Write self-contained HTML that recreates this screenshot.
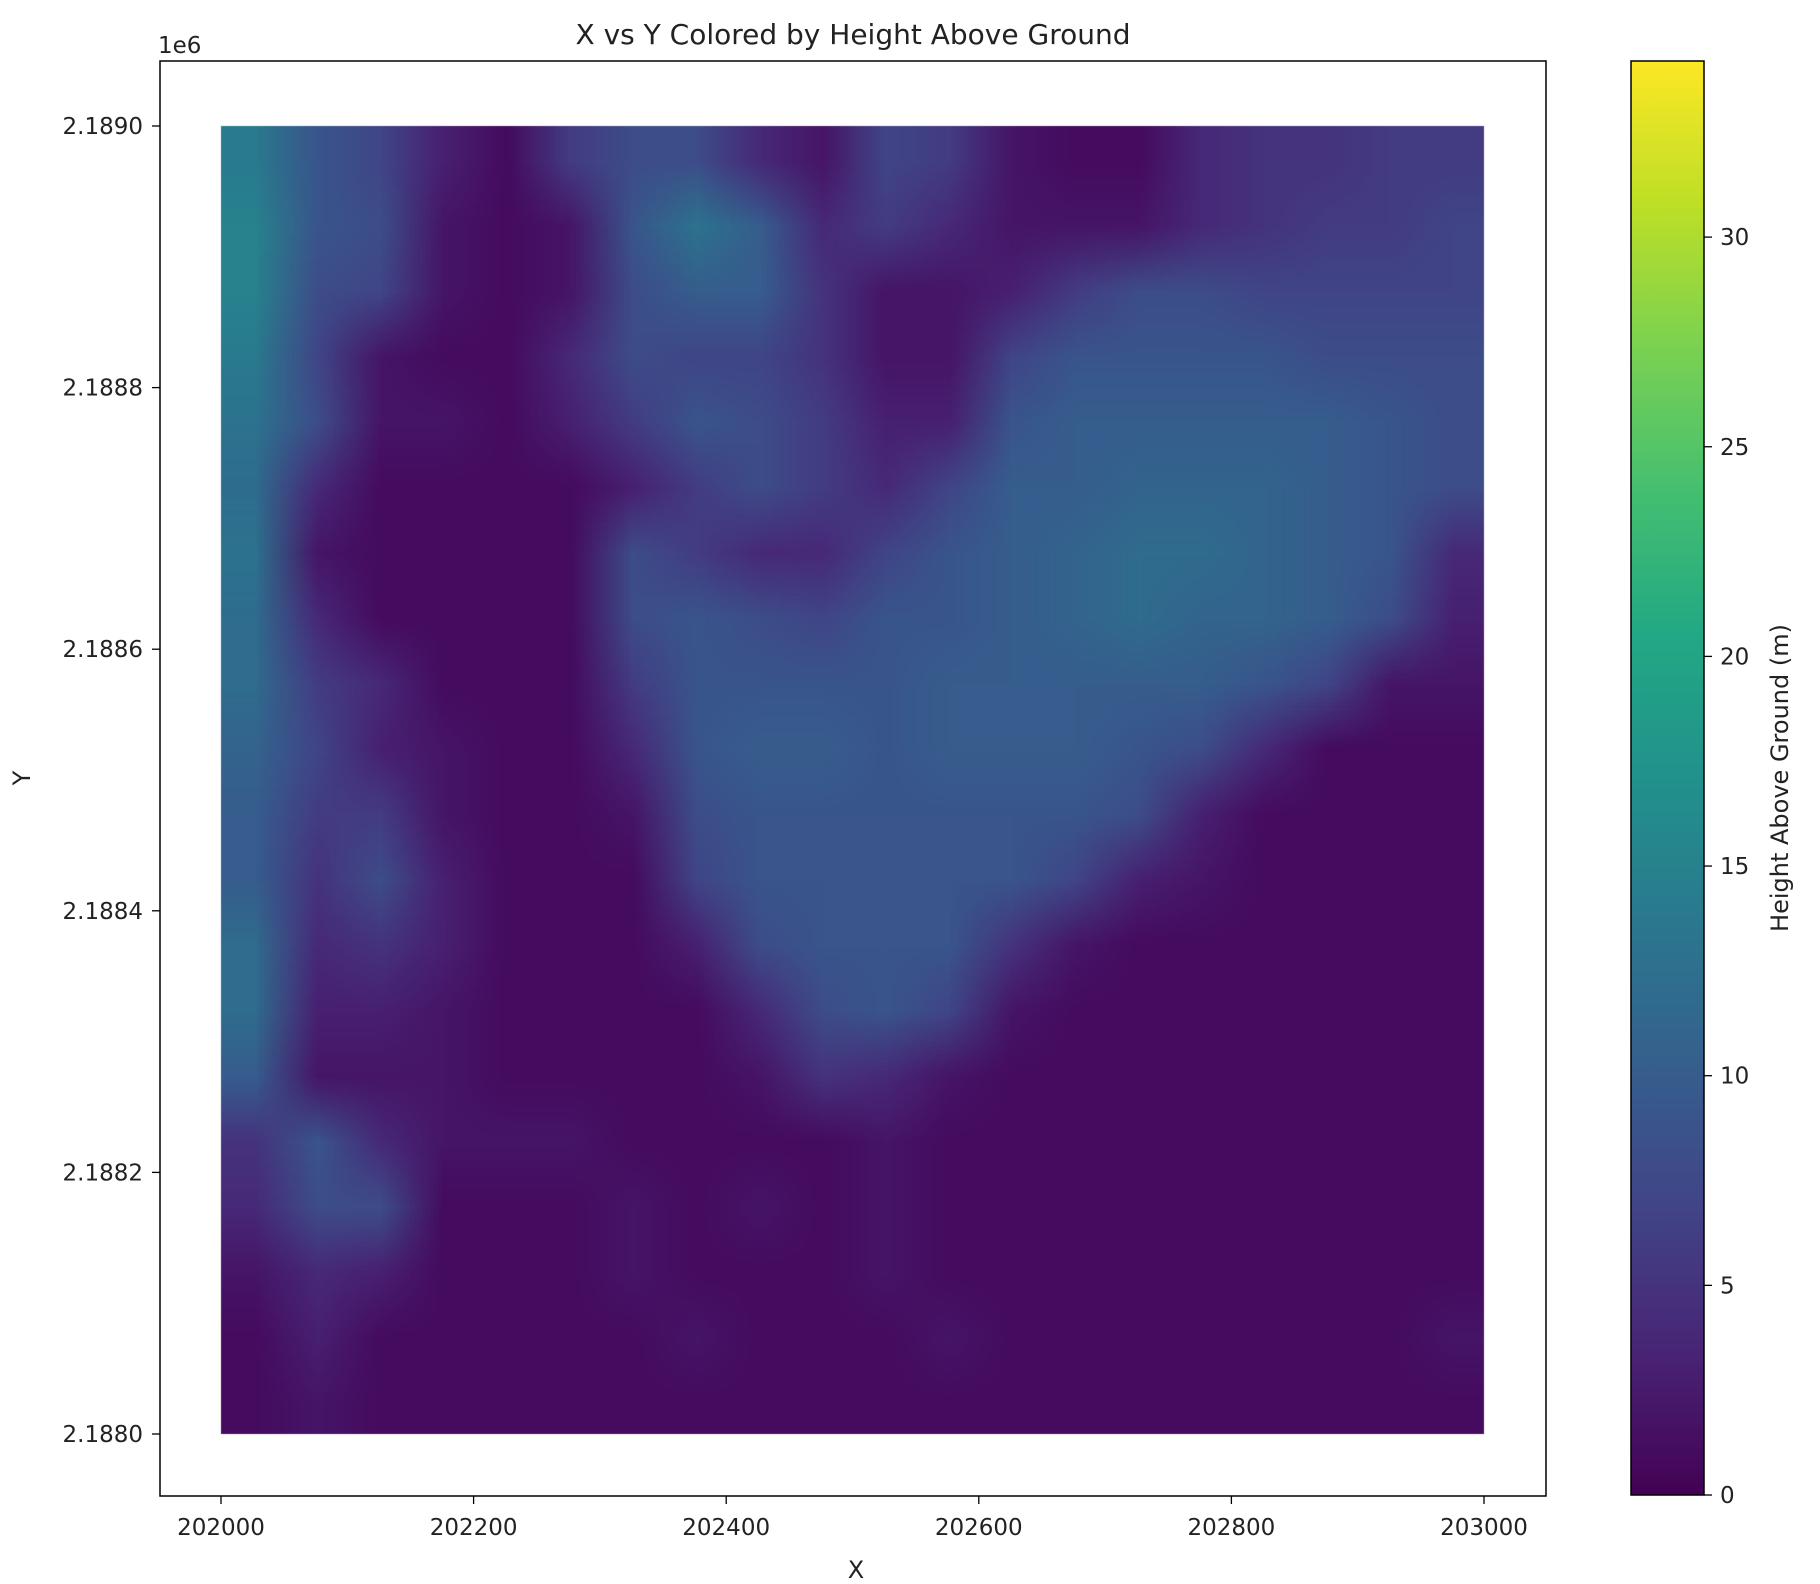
<!DOCTYPE html>
<html><head><meta charset="utf-8"><style>
body{margin:0;background:#fff;}
svg text{font-family:"DejaVu Sans","Liberation Sans",sans-serif;fill:#222;}
</style></head><body>
<div style="position:relative;width:1820px;height:1584px;">
<canvas id="heat" width="1820" height="1584" style="position:absolute;left:0;top:0"></canvas>
<svg id="svg" width="1820" height="1584" style="position:absolute;left:0;top:0">
<defs><linearGradient id="vir" x1="0" y1="1" x2="0" y2="0">
<stop offset="0" stop-color="#440154"/><stop offset="0.1" stop-color="#482475"/><stop offset="0.2" stop-color="#414487"/><stop offset="0.3" stop-color="#355f8d"/><stop offset="0.4" stop-color="#2a788e"/><stop offset="0.5" stop-color="#21918c"/><stop offset="0.6" stop-color="#22a884"/><stop offset="0.7" stop-color="#44bf70"/><stop offset="0.8" stop-color="#7ad151"/><stop offset="0.9" stop-color="#bddf26"/><stop offset="1" stop-color="#fde725"/>
</linearGradient></defs>
<text x="853" y="44" font-size="28" text-anchor="middle">X vs Y Colored by Height Above Ground</text>
<text x="158" y="53" font-size="23">1e6</text>
<rect x="160" y="61" width="1386" height="1435" fill="none" stroke="#000" stroke-width="1.5"/>
<text x="856" y="1578" font-size="24" text-anchor="middle">X</text>
<text transform="translate(30,778) rotate(-90)" font-size="24" text-anchor="middle">Y</text>
<rect x="1631" y="61" width="73" height="1434" fill="url(#vir)" stroke="#000" stroke-width="1.5"/>
<text transform="translate(1788,778) rotate(-90)" font-size="24" text-anchor="middle">Height Above Ground (m)</text>
<g id="ticks"></g>
</svg>
</div>
<script>
// Data: mean height above ground (m), 20x20 grid, rows top (north) to bottom
const xTicks=[202000,202200,202400,202600,202800,203000];
const yTicks=[2.1880,2.1882,2.1884,2.1886,2.1888,2.1890];
const cbTicks=[0,5,10,15,20,25,30];
const heightGrid=[
[14,9,7,3,1,6,8,8,4,2,7,6,2,1,1,4,5,5,6,6],
[15,9,8,2,1,2,9,13,10,4,6,4,2,2,2,4,5,6,6,7],
[15,8,7,2,1,2,8,10,10,5,2,2,3,6,8,8,7,7,7,7],
[14,7,2,1,1,4,8,7,7,5,2,2,7,9,9,9,9,8,8,8],
[13,8,2,2,1,3,6,9,8,6,3,3,9,10,10,10,10,10,9,8],
[12,4,1,1,1,1,3,6,8,6,4,7,10,10,11,11,11,10,9,8],
[13,2,1,1,1,1,8,6,4,4,7,9,10,11,12,12,11,10,9,4],
[12,4,1,1,1,1,8,9,8,7,9,9,10,11,12,11,11,10,8,3],
[12,6,4,1,1,1,6,9,9,9,9,10,10,10,10,10,9,7,2,2],
[11,7,3,2,1,1,4,9,10,10,9,10,10,10,9,8,4,1,1,1],
[10,6,6,2,1,1,2,8,9,9,9,9,9,9,8,3,1,1,1,1],
[10,5,8,3,1,1,1,7,9,9,9,9,9,7,3,2,1,1,1,1],
[12,4,5,3,1,1,1,3,8,9,9,9,5,2,1,1,1,1,1,1],
[12,3,3,2,1,1,1,1,4,8,9,7,2,1,1,1,1,1,1,1],
[10,2,2,2,1,1,1,1,2,5,4,2,1,1,1,1,1,1,1,1],
[5,9,4,2,2,2,1,1,1,1,2,1,1,1,1,1,1,1,1,1],
[4,8,8,1,1,1,2,1,2,1,2,1,1,1,1,1,1,1,1,1],
[2,4,3,1,1,1,2,1,1,1,2,1,1,1,1,1,1,1,1,1],
[1,3,1,1,1,1,1,2,1,1,1,2,1,1,1,1,1,1,1,2],
[1,2,1,1,1,1,1,1,1,1,1,1,1,1,1,1,1,1,1,1]];
const xMin=202000,xMax=203000,yMin=2.1880,yMax=2.1890,vMax=34.2;
const X=v=>221+(v-xMin)/(xMax-xMin)*(1484-221);
const Y=v=>1434-(v-yMin)/(yMax-yMin)*(1434-126);
const CB=v=>1495-v/vMax*(1495-61);
const vstops=[[68,1,84],[72,36,117],[65,68,135],[53,95,141],[42,120,142],[33,145,140],[34,168,132],[68,191,112],[122,209,81],[189,223,38],[253,231,37]];
function viridis(t){t=Math.max(0,Math.min(1,t))*10;const i=Math.min(9,Math.floor(t)),f=t-i,a=vstops[i],b=vstops[i+1];return [0,1,2].map(k=>Math.round(a[k]+(b[k]-a[k])*f));}
const rows=heightGrid.length,cols=heightGrid[0].length;
const small=document.createElement('canvas');small.width=cols;small.height=rows;
const sc=small.getContext('2d');const img=sc.createImageData(cols,rows);
heightGrid.forEach((r,i)=>r.forEach((v,j)=>{const c=viridis(v/vMax);const o=(i*cols+j)*4;img.data[o]=c[0];img.data[o+1]=c[1];img.data[o+2]=c[2];img.data[o+3]=255;}));
sc.putImageData(img,0,0);
const ctx=document.getElementById('heat').getContext('2d');
ctx.imageSmoothingEnabled=true;
ctx.drawImage(small,X(xMin),Y(yMax),X(xMax)-X(xMin),Y(yMin)-Y(yMax));
const NS='http://www.w3.org/2000/svg',g=document.getElementById('ticks');
function mk(tag,attrs,txt){const e=document.createElementNS(NS,tag);for(const k in attrs)e.setAttribute(k,attrs[k]);if(txt!==undefined)e.textContent=txt;g.appendChild(e);return e;}
xTicks.forEach(v=>{const x=X(v);
 const l=mk('line',{x1:x,x2:x,y1:1496,y2:1504,stroke:'#000','stroke-width':1.3});
 
 
 const t=mk('text',{x:x,y:1535,'font-size':23,'text-anchor':'middle'},String(v));
 
 });
yTicks.forEach(v=>{const y=Y(v);
 const l=mk('line',{x1:152,x2:160,y1:y,y2:y,stroke:'#000','stroke-width':1.3});
 
 
 const t=mk('text',{x:143,y:y+8,'font-size':23,'text-anchor':'end'},v.toFixed(4));
 
 });
cbTicks.forEach(v=>{const y=CB(v);
 const l=mk('line',{x1:1704,x2:1712,y1:y,y2:y,stroke:'#000','stroke-width':1.3});
 
 
 const t=mk('text',{x:1720,y:y+8,'font-size':23},String(v));
 
 });
</script>
</body></html>
